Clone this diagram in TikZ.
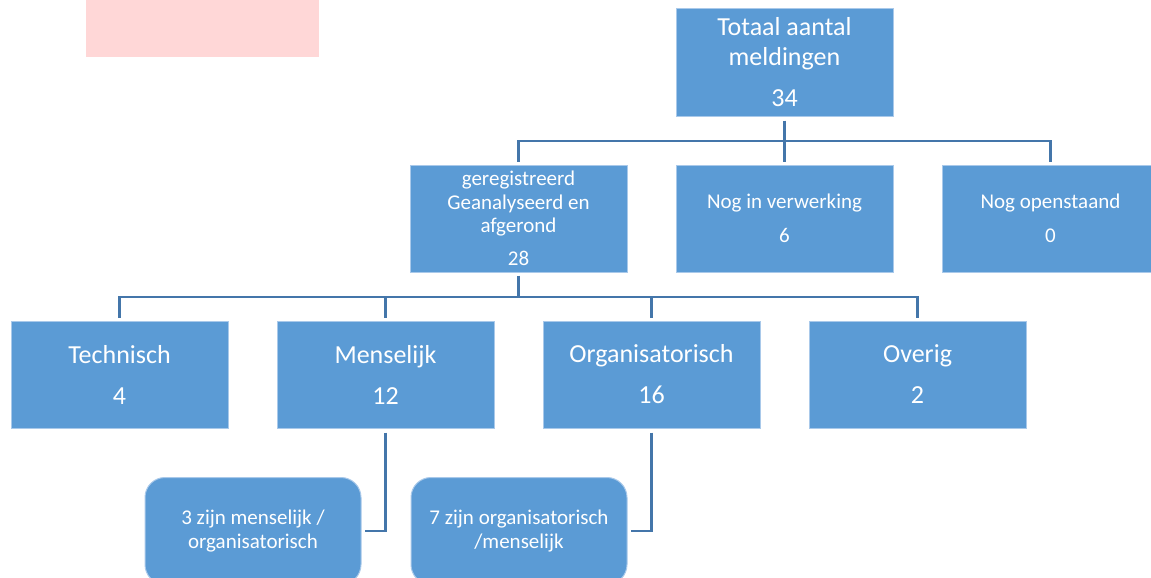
\documentclass[tikz,border=0pt]{standalone}
\usepackage{fontspec}
\setmainfont{Carlito}
\definecolor{boxblue}{HTML}{5B9BD5}
\definecolor{edgeblue}{HTML}{A9C9EA}
\definecolor{linkblue}{HTML}{4476AA}
\definecolor{notepink}{HTML}{FFD7D7}
\begin{document}
\begin{tikzpicture}[x=1pt,y=-1pt,
  box/.style={rectangle, fill=boxblue, draw=edgeblue, line width=1pt, minimum width=217pt, minimum height=107pt, inner sep=0pt, text=white, align=center},
  big/.style={font=\fontsize{26}{30}\selectfont},
  small/.style={font=\fontsize{21}{23.5}\selectfont},
  rbox/.style={box, rounded corners=20pt, minimum width=216pt},
  link/.style={draw=linkblue, line width=2.8pt}]
\clip (0,0) rectangle (1151,578);
\fill[notepink] (86,0) rectangle (319,57);
% level 1
\node[box,big] (top) at (784.5,62.5) {Totaal aantal\\meldingen\\[11pt]34};
% level 2
\node[box,small] (l2a) at (518.5,218.5) {geregistreerd\\Geanalyseerd en\\afgerond\\[9pt]28};
\node[box,small] (l2b) at (784.5,218.5) {Nog in verwerking\\[10pt]6};
\node[box,small] (l2c) at (1050.5,218.5) {Nog openstaand\\[10pt]0};
% level 3
\node[box,big] (l3a) at (119.5,374.5) {Technisch\\[11pt]4};
\node[box,big] (l3b) at (385.5,374.5) {Menselijk\\[11pt]12};
\node[box,big] (l3c) at (651.5,374.5) {Organisatorisch\\[11pt]16};
\node[box,big] (l3d) at (917.5,374.5) {Overig\\[11pt]2};
% level 4
\node[rbox,small] (l4a) at (253,531) {3 zijn menselijk /\\organisatorisch};
\node[rbox,small] (l4b) at (519,531) {7 zijn organisatorisch\\/menselijk};
% connectors
\coordinate (bus1) at (784.5,141);
\coordinate (bus2) at (518.5,297);
\draw[link] ([yshift=-4pt]top.south) -- ([yshift=3pt]l2b.north);
\draw[link] ([yshift=3pt]l2a.north) |- (bus1) -| ([yshift=3pt]l2c.north);
\draw[link] ([yshift=-3pt]l2a.south) -- (bus2);
\draw[link] ([yshift=3pt]l3a.north) |- (bus2) -| ([yshift=3pt]l3d.north);
\draw[link] ([yshift=3pt]l3b.north) -- (l3b.north |- bus2);
\draw[link] ([yshift=3pt]l3c.north) -- (l3c.north |- bus2);
\draw[link] ([yshift=-4pt]l3b.south) |- ([xshift=3pt]l4a.east);
\draw[link] ([yshift=-4pt]l3c.south) |- ([xshift=3pt]l4b.east);
\end{tikzpicture}
\end{document}
